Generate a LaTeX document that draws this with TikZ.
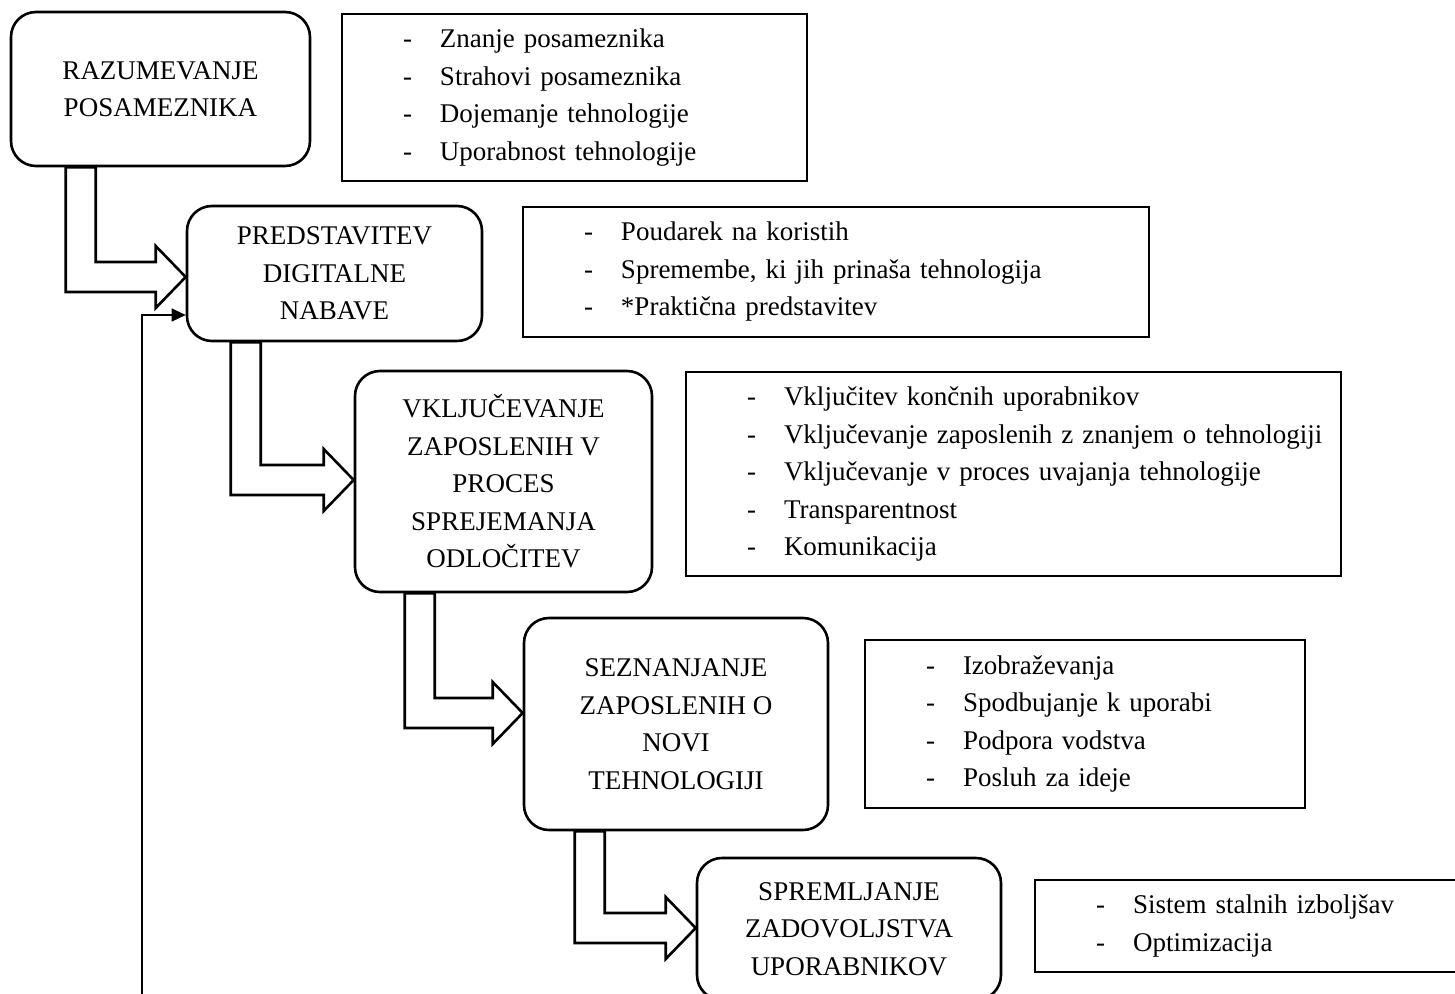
\documentclass[tikz,border=0pt]{standalone}
\usepackage{fontspec}
\setmainfont{Liberation Serif}
\usetikzlibrary{calc}
\usetikzlibrary{arrows.meta}

\tikzset{box/.style={draw, line width=2.6pt, rounded corners=25pt, align=center,
  font=\fontsize{27}{37.5}\selectfont, inner sep=0pt}}
\tikzset{listbox/.style={draw, line width=1.3pt, align=left, inner xsep=0pt,
  text width=#1, font=\fontsize{27}{37.5}\selectfont}}
\tikzset{blockarrow/.style={draw, line width=2.6pt}}
\newcommand{\litem}[1]{\hspace*{61pt}\makebox[37pt][l]{-}#1}
\newcommand{\hollowarrow}[4]{%
\draw[blockarrow] ($(#1.south west)+(#2,0)$)
  -- ($(#1.south west |- #3.west)+(#2,#4+15)$)
  -- ($(#3.west)+(-30,#4+15)$) -- ($(#3.west)+(-30,#4+31)$)
  -- ($(#3.west)+(0,#4)$)
  -- ($(#3.west)+(-30,#4-31)$) -- ($(#3.west)+(-30,#4-15)$)
  -- ($(#1.south west |- #3.west)+(#2+30,#4-15)$)
  -- ($(#1.south west)+(#2+30,0)$) -- cycle;}

\begin{document}
\begin{tikzpicture}[x=1pt,y=-1pt]
\path[use as bounding box, clip] (0,0) rectangle (1455,993);

\node[box, minimum width=299, minimum height=154] (razum) at (160.5,89) {RAZUMEVANJE\\POSAMEZNIKA};
\node[box, minimum width=295, minimum height=135] (predst) at (334.5,273.5) {PREDSTAVITEV\\DIGITALNE\\NABAVE};
\node[box, minimum width=297, minimum height=221] (vklj) at (503.5,481.5) {VKLJUČEVANJE\\ZAPOSLENIH V\\PROCES\\SPREJEMANJA\\ODLOČITEV};
\node[box, minimum width=304, minimum height=212] (seznan) at (676,724) {SEZNANJANJE\\ZAPOSLENIH O\\NOVI\\TEHNOLOGIJI};
\node[box, minimum width=304, minimum height=142] (spreml) at (849,929) {SPREMLJANJE\\ZADOVOLJSTVA\\UPORABNIKOV};

\node[listbox=465pt, minimum height=167] (list1) at (574.5,97.5)
  {\litem{Znanje posameznika}\\\litem{Strahovi posameznika}\\\litem{Dojemanje tehnologije}\\\litem{Uporabnost tehnologije}};
\node[listbox=626pt, minimum height=130] (list2) at (836,272)
  {\litem{Poudarek na koristih}\\\litem{Spremembe, ki jih prinaša tehnologija}\\\litem{*Praktična predstavitev}};
\node[listbox=655pt, minimum height=204] (list3) at (1013.5,474)
  {\litem{Vključitev končnih uporabnikov}\\\litem{Vključevanje zaposlenih z znanjem o tehnologiji}\\\litem{Vključevanje v proces uvajanja tehnologije}\\\litem{Transparentnost}\\\litem{Komunikacija}};
\node[listbox=440pt, minimum height=168] (list4) at (1085,724)
  {\litem{Izobraževanja}\\\litem{Spodbujanje k uporabi}\\\litem{Podpora vodstva}\\\litem{Posluh za ideje}};
\node[listbox=430pt, minimum height=92] (list5) at (1250,926)
  {\litem{Sistem stalnih izboljšav}\\\litem{Optimizacija}};

\hollowarrow{razum}{56}{predst}{3.5}
\hollowarrow{predst}{45}{vklj}{-1.5}
\hollowarrow{vklj}{51}{seznan}{-11}
\hollowarrow{seznan}{52}{spreml}{-1}

\coordinate (feedback) at (142,1000);
\draw[line width=1.3pt, -{Triangle[length=14pt,width=13pt]}] (feedback) |- ($(predst.west)+(0,41.5)$);
\end{tikzpicture}
\end{document}
